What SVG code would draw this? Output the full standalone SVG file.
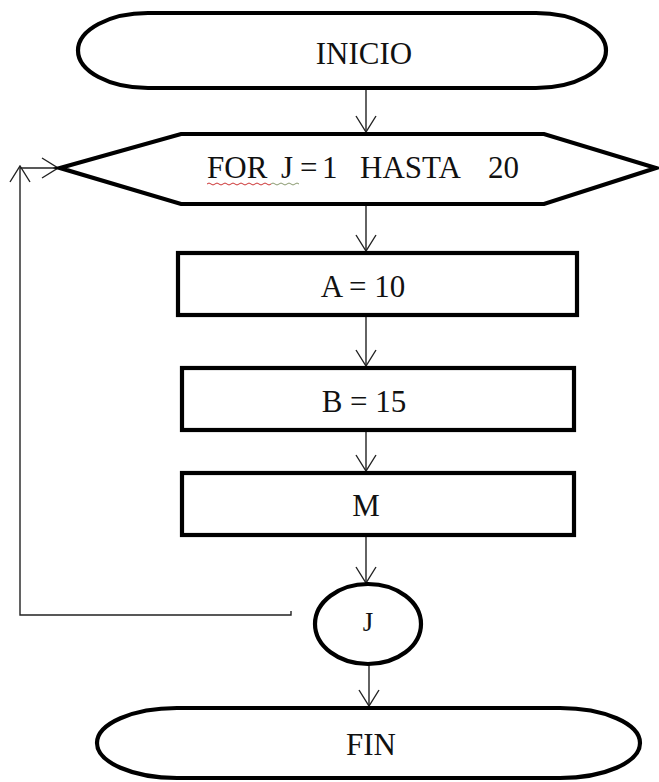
<svg xmlns="http://www.w3.org/2000/svg" width="659" height="782" viewBox="0 0 659 782">
<style>
.shape{fill:#fff;stroke:#000;stroke-width:4.2}
.conn{fill:none;stroke:#222;stroke-width:1.4}
.lbl{font-family:"Liberation Serif","Times New Roman",serif;font-size:31px;fill:#111;text-anchor:middle}
</style>
<defs>
<marker id="arr" viewBox="0 0 18 22" refX="17" refY="11" markerWidth="18" markerHeight="22" markerUnits="userSpaceOnUse" orient="auto">
<path d="M1,1 L17,11 L1,21" fill="none" stroke="#222" stroke-width="1.4"/>
</marker>
</defs>
<rect width="659" height="782" fill="#fff"/>
<g id="connectors">
<line class="conn" x1="366" y1="89" x2="366" y2="132" marker-end="url(#arr)"/>
<line class="conn" x1="366" y1="206" x2="366" y2="251" marker-end="url(#arr)"/>
<line class="conn" x1="366" y1="317" x2="366" y2="366" marker-end="url(#arr)"/>
<line class="conn" x1="366" y1="432" x2="366" y2="471" marker-end="url(#arr)"/>
<line class="conn" x1="366" y1="537" x2="366" y2="583" marker-end="url(#arr)"/>
<line class="conn" x1="369" y1="664" x2="369" y2="706" marker-end="url(#arr)"/>
<polyline class="conn" points="291,611 291,615 20,615 20,166" marker-end="url(#arr)"/>
<line class="conn" x1="20" y1="168" x2="58" y2="168" marker-end="url(#arr)"/>
</g>
<g id="inicio">
<rect class="shape" x="78" y="13" width="528" height="75" rx="70" ry="37.5"/>
<text class="lbl" x="364" y="64">INICIO</text>
</g>
<g id="for">
<polygon class="shape" points="60,168 181,134 544,134 656,168 544,204 181,204"/>
<text class="lbl" y="178" style="text-anchor:start"><tspan x="207">FOR</tspan><tspan x="281">J</tspan><tspan x="300">=</tspan><tspan x="322">1</tspan><tspan x="360">HASTA</tspan><tspan x="488">20</tspan></text>
<path d="M207,184 q2,-2 4,0 t4,0 t4,0 t4,0 t4,0 t4,0 t4,0 t4,0 t4,0 t4,0 t4,0 t4,0 t4,0 t4,0 t4,0 t4,0" fill="none" stroke="#c33" stroke-width="1"/>
<path d="M271,184 q2,-2 4,0 t4,0 t4,0 t4,0 t4,0 t4,0 t4,0" fill="none" stroke="#8a9a70" stroke-width="1"/>
</g>
<g id="a">
<rect class="shape" x="178" y="253" width="399" height="62"/>
<text class="lbl" x="363" y="297">A = 10</text>
</g>
<g id="b">
<rect class="shape" x="182" y="368" width="392" height="62"/>
<text class="lbl" x="364" y="412">B = 15</text>
</g>
<g id="m">
<rect class="shape" x="182" y="473" width="392" height="62"/>
<text class="lbl" x="366" y="516">M</text>
</g>
<g id="j">
<ellipse class="shape" cx="368" cy="624" rx="53" ry="40"/>
<text class="lbl" x="368" y="631" style="font-size:27px">J</text>
</g>
<g id="fin">
<rect class="shape" x="97" y="708" width="543" height="70" rx="80" ry="35"/>
<text class="lbl" x="371" y="755">FIN</text>
</g>
</svg>
